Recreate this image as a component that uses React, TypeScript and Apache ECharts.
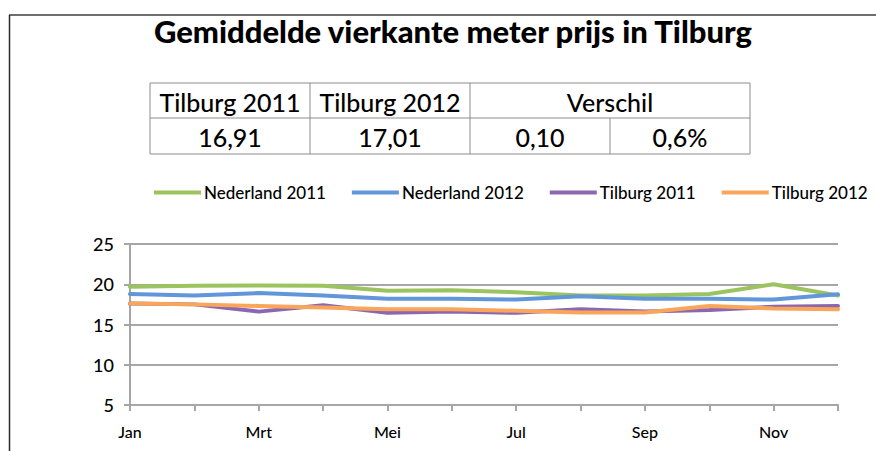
import React, { useEffect, useRef } from "react";
import * as echarts from "echarts";

const titleText = "Gemiddelde vierkante meter prijs in Tilburg";
const months = ["Jan", "Feb", "Mrt", "Apr", "Mei", "Jun", "Jul", "Aug", "Sep", "Okt", "Nov", "Dec"];
const seriesNames = ["Nederland 2011", "Nederland 2012", "Tilburg 2011", "Tilburg 2012"];
const nederland2011 = [19.7, 19.8, 19.85, 19.8, 19.2, 19.25, 19.0, 18.6, 18.6, 18.8, 20.0, 18.6];
const nederland2012 = [18.8, 18.6, 18.9, 18.6, 18.2, 18.2, 18.1, 18.5, 18.2, 18.2, 18.1, 18.75];
const tilburg2011 = [17.6, 17.5, 16.6, 17.4, 16.45, 16.6, 16.45, 16.9, 16.6, 16.8, 17.2, 17.3];
const tilburg2012 = [17.6, 17.5, 17.3, 17.1, 16.9, 16.9, 16.7, 16.5, 16.5, 17.3, 17.0, 16.9];
const seriesColors = ["#9bc35f", "#6196d9", "#8a67b0", "#f9a55a"];
const tableHeaders = ["Tilburg 2011", "Tilburg 2012", "Verschil"];
const tableValues = ["16,91", "17,01", "0,10", "0,6%"];

const FONT = "Lato, 'Open Sans', sans-serif";

export default function App() {
  const ref = useRef<HTMLDivElement>(null);
  useEffect(() => {
    if (!ref.current) return;
    const chart = echarts.init(ref.current, null, { renderer: "svg" });

    const colX = [150, 310, 470, 610, 750];
    const rowY = [83, 118, 154];
    const tableColor = "#8c8c8c";
    const tableEls: any[] = [];
    tableEls.push({
      type: "rect",
      shape: { x: colX[0], y: rowY[0], width: colX[4] - colX[0], height: rowY[2] - rowY[0] },
      style: { fill: "none", stroke: tableColor, lineWidth: 1 },
    });
    tableEls.push({
      type: "line",
      shape: { x1: colX[0], y1: rowY[1], x2: colX[4], y2: rowY[1] },
      style: { stroke: tableColor, lineWidth: 1 },
    });
    [1, 2].forEach((i) =>
      tableEls.push({
        type: "line",
        shape: { x1: colX[i], y1: rowY[0], x2: colX[i], y2: rowY[2] },
        style: { stroke: tableColor, lineWidth: 1 },
      })
    );
    tableEls.push({
      type: "line",
      shape: { x1: colX[3], y1: rowY[1], x2: colX[3], y2: rowY[2] },
      style: { stroke: tableColor, lineWidth: 1 },
    });
    const headerCenters = [(colX[0] + colX[1]) / 2, (colX[1] + colX[2]) / 2, (colX[2] + colX[4]) / 2];
    tableHeaders.forEach((t, i) =>
      tableEls.push({
        type: "text",
        x: headerCenters[i],
        y: (rowY[0] + rowY[1]) / 2 + 1,
        style: { text: t, fill: "#000", font: `500 25px ${FONT}`, align: "center", verticalAlign: "middle" },
      })
    );
    tableValues.forEach((t, i) =>
      tableEls.push({
        type: "text",
        x: (colX[i] + colX[i + 1]) / 2,
        y: (rowY[1] + rowY[2]) / 2 + 1,
        style: { text: t, fill: "#000", font: `500 25px ${FONT}`, align: "center", verticalAlign: "middle" },
      })
    );

    const dataArr = [nederland2011, nederland2012, tilburg2011, tilburg2012];

    chart.setOption({
      animation: false,
      backgroundColor: "#ffffff",
      title: {
        text: titleText,
        left: 448,
        textAlign: "center",
        top: 10,
        textStyle: { fontFamily: FONT, fontWeight: 900, fontSize: 31, color: "#000" },
      },
      legend: {
        left: 149,
        top: 179,
        icon: "rect",
        itemWidth: 47,
        itemHeight: 4,
        itemGap: 26,
        textStyle: { fontFamily: FONT, fontSize: 17, fontWeight: 500, color: "#000", padding: [0, 0, 0, -2] },
        data: seriesNames,
      },
      grid: { left: 130, right: 38, top: 244, bottom: 46, containLabel: false },
      xAxis: {
        type: "category",
        data: months,
        boundaryGap: false,
        axisLine: { lineStyle: { color: "#a6a6a6", width: 2 } },
        axisTick: { show: true, interval: 0, length: 6, lineStyle: { color: "#a6a6a6", width: 2 } },
        axisLabel: { interval: 1, margin: 18, fontFamily: FONT, fontSize: 16, fontWeight: 500, color: "#000" },
        splitLine: { show: false },
      },
      yAxis: {
        type: "value",
        min: 5,
        max: 25,
        interval: 5,
        axisLine: { show: true, lineStyle: { color: "#a6a6a6", width: 2 } },
        axisTick: { show: true, length: 6, lineStyle: { color: "#a6a6a6", width: 2 } },
        axisLabel: { margin: 16, fontFamily: FONT, fontSize: 18, fontWeight: 500, color: "#000" },
        splitLine: { show: true, lineStyle: { color: "#a6a6a6", width: 2 } },
      },
      series: seriesNames.map((name, i) => ({
        name,
        type: "line",
        data: dataArr[i],
        showSymbol: false,
        symbol: "none",
        lineStyle: { width: 4, color: seriesColors[i], join: "round", cap: "round" },
        itemStyle: { color: seriesColors[i] },
      })),
      graphic: [
        {
          type: "line",
          shape: { x1: 9, y1: 15, x2: 876, y2: 15 },
          style: { stroke: "#6e6e6e", lineWidth: 2 },
        },
        {
          type: "line",
          shape: { x1: 9.5, y1: 15, x2: 9.5, y2: 451 },
          style: { stroke: "#2a2a2a", lineWidth: 1.5 },
        },
        ...tableEls,
      ],
    });
    return () => chart.dispose();
  }, []);
  return (
    <div
      ref={ref}
      style={{ position: "fixed", left: 0, top: 0, width: 876, height: 451, background: "#fff" }}
    />
  );
}
